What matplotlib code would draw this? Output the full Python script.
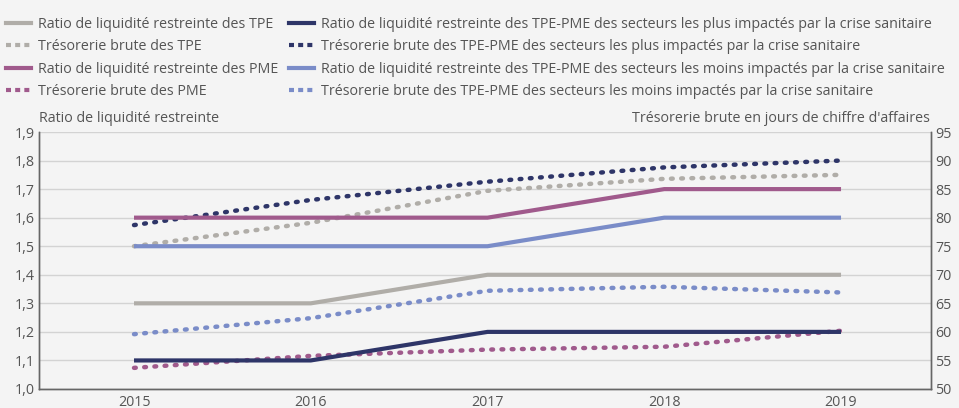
import matplotlib
matplotlib.use("Agg")
import matplotlib.pyplot as plt
from matplotlib.lines import Line2D

plt.rcParams['font.family'] = ['Open Sans', 'DejaVu Sans']

years = [2015, 2016, 2017, 2018, 2019]

ratio_tpe = [1.3, 1.3, 1.4, 1.4, 1.4]
ratio_pme = [1.6, 1.6, 1.6, 1.7, 1.7]
ratio_plus = [1.1, 1.1, 1.2, 1.2, 1.2]
ratio_moins = [1.5, 1.5, 1.5, 1.6, 1.6]

treso_tpe = [75.0, 79.1, 84.7, 86.8, 87.5]
treso_pme = [53.7, 55.8, 56.9, 57.4, 60.2]
treso_plus = [78.7, 83.1, 86.3, 88.8, 90.0]
treso_moins = [59.6, 62.4, 67.2, 67.9, 66.9]

labels = [
    "Ratio de liquidité restreinte des TPE",
    "Trésorerie brute des TPE",
    "Ratio de liquidité restreinte des PME",
    "Trésorerie brute des PME",
    "Ratio de liquidité restreinte des TPE-PME des secteurs les plus impactés par la crise sanitaire",
    "Trésorerie brute des TPE-PME des secteurs les plus impactés par la crise sanitaire",
    "Ratio de liquidité restreinte des TPE-PME des secteurs les moins impactés par la crise sanitaire",
    "Trésorerie brute des TPE-PME des secteurs les moins impactés par la crise sanitaire",
]

left_ticks = [1.0, 1.1, 1.2, 1.3, 1.4, 1.5, 1.6, 1.7, 1.8, 1.9]
right_ticks = [50, 55, 60, 65, 70, 75, 80, 85, 90, 95]

c_gray = "#b0ada8"
c_mauve = "#a05a8c"
c_navy = "#2e3568"
c_blue = "#7a8cc8"
bg = "#f4f4f4"
txt = "#555555"
fs = 10.3

fig = plt.figure(figsize=(9.59, 4.08), dpi=100, facecolor=bg)
ax = fig.add_axes([39/959, 19/408, 892/959, 257/408])
ax.set_facecolor(bg)
ax2 = ax.twinx()

lw_s = 3.0
lw_d = 3.2
dash = (0, (0.4, 1.9))

ax.set_zorder(2)
ax.patch.set_visible(False)
ax2.set_zorder(1)
ax2.patch.set_visible(True)
ax2.patch.set_facecolor(bg)

for yv in right_ticks:
    ax2.axhline(yv, color="#d3d3d3", lw=1.0, zorder=0)

ax.plot(years, ratio_tpe, color=c_gray, lw=lw_s, solid_capstyle='butt')
ax.plot(years, ratio_pme, color=c_mauve, lw=lw_s, solid_capstyle='butt')
ax.plot(years, ratio_plus, color=c_navy, lw=lw_s, solid_capstyle='butt')
ax.plot(years, ratio_moins, color=c_blue, lw=lw_s, solid_capstyle='butt')

ax2.plot(years, treso_tpe, color=c_gray, lw=lw_d, linestyle=dash, dash_capstyle='round')
ax2.plot(years, treso_pme, color=c_mauve, lw=lw_d, linestyle=dash, dash_capstyle='round')
ax2.plot(years, treso_plus, color=c_navy, lw=lw_d, linestyle=dash, dash_capstyle='round')
ax2.plot(years, treso_moins, color=c_blue, lw=lw_d, linestyle=dash, dash_capstyle='round')

ax.set_xlim(2014.4625, 2019.509)
ax.set_ylim(1.0, 1.9)
ax2.set_ylim(50, 95)

ax.set_xticks(years)
ax.set_xticklabels([str(y) for y in years])
ax.set_yticks(left_ticks)
ax.set_yticklabels([f"{v:.1f}".replace(".", ",") for v in left_ticks])
ax2.set_yticks(right_ticks)
ax2.set_yticklabels([str(v) for v in right_ticks])

for a in (ax, ax2):
    a.tick_params(length=0, labelsize=fs, colors=txt, pad=4)
    a.spines['top'].set_visible(False)
    for s in ('left', 'right', 'bottom'):
        a.spines[s].set_color("#666666")
        a.spines[s].set_linewidth(1.0)
ax.tick_params(axis='x', pad=4)
ax.tick_params(axis='y', pad=3)
ax2.tick_params(axis='y', pad=3)

fig.text(39/959, 1 - 118/408, "Ratio de liquidité restreinte", ha='left', va='center', fontsize=fs, color=txt)
fig.text(930/959, 1 - 118/408, "Trésorerie brute en jours de chiffre d'affaires", ha='right', va='center', fontsize=fs, color=txt)

ls_leg = (0, (1.2, 1.0))
handles = [
    Line2D([], [], color=c_gray, lw=lw_s),
    Line2D([], [], color=c_gray, lw=lw_s, linestyle=ls_leg, dash_capstyle='butt'),
    Line2D([], [], color=c_mauve, lw=lw_s),
    Line2D([], [], color=c_mauve, lw=lw_s, linestyle=ls_leg, dash_capstyle='butt'),
    Line2D([], [], color=c_navy, lw=lw_s),
    Line2D([], [], color=c_navy, lw=lw_s, linestyle=ls_leg, dash_capstyle='butt'),
    Line2D([], [], color=c_blue, lw=lw_s),
    Line2D([], [], color=c_blue, lw=lw_s, linestyle=ls_leg, dash_capstyle='butt'),
]
leg = fig.legend(handles, labels, ncol=2, loc='upper left', bbox_to_anchor=(-0.004, 1 - 7/408),
                 frameon=False, fontsize=fs, labelcolor=txt, handlelength=1.75,
                 handletextpad=0.45, columnspacing=0.8, labelspacing=0.52,
                 borderaxespad=0.3, borderpad=0.4)

fig.savefig("out.png", dpi=100, facecolor=bg)
